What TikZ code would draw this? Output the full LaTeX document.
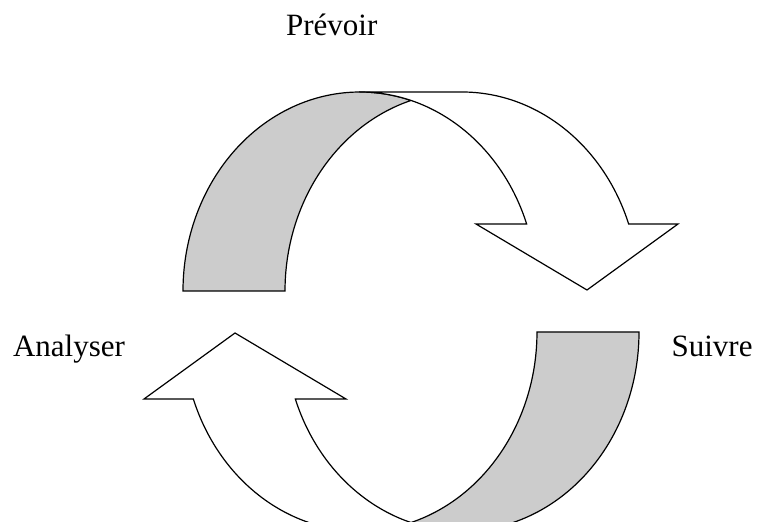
\documentclass[tikz,border=0pt]{standalone}
\usepackage{fontspec}
\setmainfont{Liberation Serif}
\begin{document}
\begin{tikzpicture}[x=1pt,y=1pt,line width=1.2pt,
    back/.style={fill=black!20,draw=black},
    front/.style={fill=white,draw=black},
    lbl/.style={anchor=base west,inner sep=0pt,font=\fontsize{31}{37}\selectfont}]
    \useasboundingbox (0,0) rectangle (758,522);
    \clip (0,0) rectangle (758,522);
    \foreach \r in {0,180}{
      \begin{scope}[rotate around={\r:(411,210.5)}]
        \draw[back] (183,231) arc[start angle=180,end angle=73.25,x radius=177pt,y radius=199pt]
          arc[start angle=106.75,end angle=180,x radius=177pt,y radius=199pt] -- cycle;
        \draw[front] (360,430) -- (462,430)
          arc[start angle=90,end angle=19.68,x radius=177pt,y radius=199pt]
          -- (678,298) -- (587,232) -- (476,298) -- (526.66,298)
          arc[start angle=19.68,end angle=90,x radius=177pt,y radius=199pt] -- cycle;
      \end{scope}
    }
    \node[lbl] (prevoir) at (285.5,486) {Prévoir};
    \node[lbl] (analyser) at (12.5,165) {Analyser};
    \node[lbl] (suivre) at (671,165) {Suivre};
\end{tikzpicture}
\end{document}
